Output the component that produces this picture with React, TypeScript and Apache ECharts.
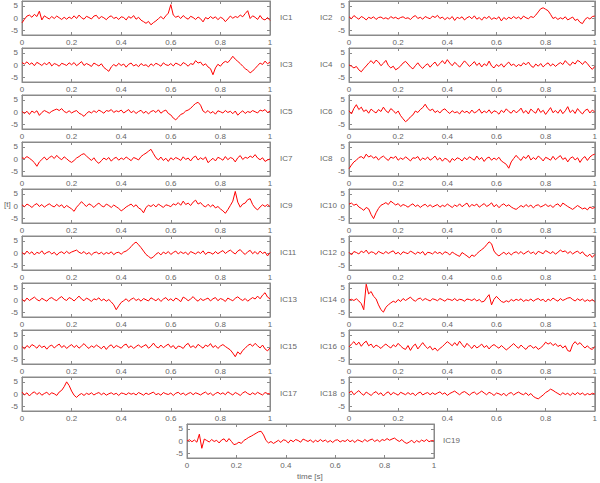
import React, { useEffect, useRef } from "react";
import * as echarts from "echarts";

const IC1 = [-2,-0.5,0.8,1.2,0.3,1.5,0.6,2.8,-0.8,0.9,0.2,-0.4,0.6,-0.2,0.8,0.1,-0.6,0.3,-0.5,0.4,-0.3,0.9,-0.2,1.2,0.1,-0.5,0.7,0.2,-0.4,0.8,1.1,-0.3,0.6,0.1,-0.7,0.4,0.9,-0.2,0.3,-0.6,0.5,0.2,-0.8,0.6,-0.1,1,-0.5,0.3,-0.9,-1.5,-2.2,-1.4,-2.8,-1.9,-1.2,-0.3,0.6,-0.4,0.9,2,5.5,1.2,0.3,0.8,-0.2,1,0.1,-0.5,0.7,0.2,-0.6,0.4,-0.3,-1.6,0.2,-0.4,0.6,-0.2,0.5,-0.7,0.3,-0.2,-1.5,-0.4,0.8,-0.1,0.6,0.2,1.2,0.5,1.8,3,-0.2,0.9,0.3,-0.6,1,-0.4,-0.8,0.2,-1];
const IC2 = [0.5,-0.3,1,0.2,-0.5,0.6,0.1,-0.8,0.3,-0.2,0.5,-0.6,0.2,0.4,-0.3,0.1,-0.5,0.6,-0.1,0.3,-0.4,0.2,0.5,-0.2,0.1,-0.6,0.4,1,-0.2,0.3,-0.5,0.6,0.1,-0.3,0.8,0.2,1.1,-0.2,0.4,-0.7,0.2,-0.4,0.6,-1,0.3,-0.2,0.5,-0.8,0.1,0.6,-0.3,0.9,-0.5,0.2,-0.9,0.4,-0.2,0.7,-0.6,0.1,-0.4,0.5,-1.2,0.2,-0.6,0.3,-0.3,0.6,-0.2,0.4,-0.5,0.8,0.1,-0.3,0.6,0.2,1.2,2.5,3.8,4.2,3.6,3,1.5,-0.2,0.3,-0.6,0.1,-0.4,0.5,-0.8,-0.2,0.4,-1,-0.5,-1.8,-2.3,-0.6,0.2,-0.4,0.6,0.8];
const IC3 = [1,0.4,1.3,0.2,0.9,-0.3,1.1,0.5,-0.2,0.8,0.1,1.2,-0.4,0.6,0.2,-0.5,0.7,0.3,-0.2,0.9,0.1,1,-0.3,0.5,1.4,-0.2,0.6,0.1,-0.6,0.8,0.2,-0.4,0.5,-1,-1.8,-2.6,-0.8,0.2,-0.5,0.7,-0.2,0.4,-0.9,0.3,0.8,-0.4,0.2,-0.7,0.6,-0.2,0.1,-0.8,0.5,-0.3,0.7,0.2,-0.5,0.9,0.1,-0.2,0.6,-0.4,0.8,0.3,-0.3,1,0.4,-0.5,0.6,0.2,1.8,0.8,1.2,-0.2,0.5,-0.8,-1.5,-4,-1.2,0.3,-0.5,0.8,1.5,1,2.2,3.6,2.4,1.5,0.6,-0.5,-1.5,-2.2,-3.2,-2.5,-1.4,-0.3,0.8,0.2,1.6,0.5,1.2];
const IC4 = [0,-0.5,-1.2,-0.6,-2,-2.8,-1.5,-0.4,0.8,1.8,0.6,2,1.2,-0.3,0.7,1.9,-0.2,-1.2,-0.5,-2,-1.3,-0.4,0.8,1.5,0.4,-0.8,-1.6,-0.3,0.9,-0.5,-1.4,-0.2,0.5,-0.9,0.3,1.2,-0.4,0.6,1.8,0.5,2.2,0.8,-0.3,1.1,0.2,-0.9,0.4,1.7,0.6,-0.6,0.3,1.4,-0.2,0.8,-0.8,0.5,-0.3,1.6,-0.4,-1.2,0.2,-0.6,0.5,-0.9,0.3,1.2,-0.2,0.4,-0.7,0.2,-0.4,0.9,0.1,1.2,-0.3,-1,0.4,-0.5,0.6,-0.8,0.2,0.9,-0.4,0.5,-0.6,0.3,1,0.2,1.8,0.6,-0.2,1.2,0.4,1.9,1.3,0.2,1.5,0.6,-0.8,-1.8,-0.6];
const IC5 = [0.2,-0.6,0.3,-1,0.4,-0.3,0.5,-1.4,-0.2,0.6,0.1,-0.5,0.3,0.8,1.2,0.6,1.4,0.2,-0.3,0.5,-0.4,0.2,0.6,-0.5,-1,-1.8,-0.6,0.2,-0.4,0.5,-0.2,0.8,0.2,-0.5,0.6,0.3,1,-0.2,0.5,0.1,0.8,-0.4,0.3,1,-0.3,0.4,-0.6,0.2,0.7,-0.5,0.3,-0.8,0.2,0.6,-0.2,0.9,-0.5,0.3,0.8,-0.6,-1.2,-2.5,-3.2,-2.2,-1,-0.6,0.4,0.8,1.5,2.6,3.5,4,2.8,0.4,-0.3,0.6,-0.5,0.2,-0.9,0.5,0.1,-0.4,0.6,-0.2,0.3,-0.7,0.4,-1.3,-0.3,0.5,-0.6,0.2,-0.2,0.6,0.1,-0.4,0.8,0.4,1,-0.2,0.3];
const IC6 = [0.5,-0.8,1.5,3,1,2,0.2,0.9,-0.5,1.2,0.3,-0.4,1,0.2,2,0.5,-0.3,1.4,0.6,-0.6,0.4,-1.5,-2.8,-4,-3.2,-2,-1.2,0.4,-0.2,1,1.8,3.2,1.5,0.6,1.2,-0.2,0.5,-0.4,0.8,1.3,0.2,-0.6,0.5,-0.3,0.1,-0.8,0.6,-0.2,0.3,-0.6,0.8,-0.4,0.2,1.2,-0.5,0.4,-0.3,0.9,-0.6,0.5,0.1,-0.9,0.7,-0.2,1.3,0.2,-0.5,0.8,-0.3,0.4,1.6,-0.4,0.6,-0.8,1.2,0.2,-0.5,1.5,-0.2,0.7,-1,0.4,1.8,-0.3,0.6,-0.5,1,-0.7,0.5,2.2,-0.2,0.8,-0.6,1.4,0.1,-0.8,0.6,1.2,-0.4,0.8,0];
const IC7 = [0.5,0.2,1,0.3,-0.5,-1.5,-3,-1.2,-0.2,0.8,-0.4,0.6,1.2,0.2,1.5,0.4,-0.3,0.9,0.1,-0.8,-1.4,-0.6,0.4,1,1.8,2.2,1.2,0.3,-0.6,0.5,-1,-1.8,-0.7,0.4,-0.3,0.6,-0.9,0.2,0.7,-0.5,0.4,-0.2,0.8,0.1,-0.7,0.6,0.2,-0.4,1,1.8,2.4,3.2,4,2.2,0.5,-0.4,0.8,-0.6,0.3,-1,0.5,-0.3,0.6,0.1,-0.6,0.9,-0.2,0.4,-0.8,0.6,1.2,-0.4,0.5,-0.2,0.8,-1.5,-0.6,0.3,-0.8,0.7,0.2,-0.5,1,-0.3,0.6,0.2,-1.2,0.5,1.4,-0.2,0.7,0.3,1.2,0.6,1.8,0.4,-0.3,0.5,-1,-0.4,0];
const IC8 = [-4,-2.5,-1.2,-0.5,0.6,1,0.2,2,0.8,1.4,0.3,1,-0.4,0.6,1.2,0.2,-0.6,0.8,0.3,1.1,-0.5,0.4,-0.2,0.9,0.1,-0.8,0.5,0.3,1,-0.6,0.4,-0.2,0.8,-0.5,0.2,1.2,-0.4,0.5,-0.9,0.3,-0.2,-1.4,0.2,-0.6,0.5,0.1,-0.8,0.6,-0.3,0.9,0.2,-0.5,1.2,-0.2,0.6,-1,0.3,0.8,-0.5,0.4,-0.3,0.7,-0.8,-1.5,-2.2,-3.8,-1.2,0.2,1.5,0.3,-0.6,1,0.2,1.6,-0.4,0.6,-0.2,1.2,0.4,-0.8,0.7,0.2,-0.5,1.1,-0.3,0.6,1.4,-0.2,0.5,-1.2,0.3,0.9,-0.4,0.5,-1.4,0.2,1,-0.6,0.8,1.6,2];
const IC9 = [0.5,-0.3,0.8,0.2,-0.6,0.4,1,-0.2,0.6,-0.5,0.3,0.9,0.1,-0.4,0.7,-0.2,0.5,-0.8,0.2,-0.5,-1.2,-2.2,-0.5,0.6,1.8,0.7,-0.2,0.9,0.3,-0.6,0.5,1.2,0.1,-0.4,0.8,0.2,-0.6,0.4,-0.3,-1,-2,-1.3,-0.4,0.2,0.8,-0.3,0.5,-0.8,-1.4,-2.8,-0.6,0.3,-0.2,0.6,-0.4,0.8,0.1,-0.6,0.5,0.2,-0.3,0.9,0.4,1.4,0.3,2,0.6,1.2,0.2,1.6,2.4,0.8,1.4,0.2,-0.4,0.7,-0.3,0.5,-0.8,-0.2,-1.2,-2,-3,-1.5,0.2,2,6,1.6,-0.5,0.8,1.2,2.6,3,0.6,-0.8,-1.6,-0.4,0.5,-0.2,0.6,-0.2];
const IC10 = [0.8,1.2,0.3,0.8,-0.4,-1,-1.8,-0.6,-1.2,-3.5,-5.2,-2.8,-1,0.3,0.8,1.4,0.6,2,1.2,0.4,1,-0.2,0.6,0.2,-0.5,0.3,0.9,-0.2,0.4,-0.6,0.2,0.7,-0.3,0.5,-0.4,0.1,0.6,-0.5,0.3,-0.2,0.8,0.1,-0.6,0.4,-0.2,0.9,-0.3,0.5,1.2,-0.4,0.6,0.1,0.8,-0.5,0.3,1,-0.2,0.4,1.3,-0.3,0.6,-0.7,0.3,0.9,-0.1,0.5,-0.4,-1,-1.4,-0.6,0.2,-0.5,0.6,-0.3,0.4,-0.8,0.2,0.5,-0.4,0.1,0.7,-0.2,0.3,-0.6,0.4,0.9,-0.3,1.2,0.5,-0.2,-0.8,-1.4,-0.6,0.2,-0.5,-1.2,-0.8,-1.6,-0.4,-1,-0.6];
const IC11 = [0.2,-0.6,0.8,-0.3,0.5,-0.8,0.3,-0.2,0.9,-0.5,0.2,0.6,-0.4,0.3,-0.9,0.1,0.5,-0.3,0.7,-0.2,0.4,0.8,1.2,0.3,-0.2,0.6,-0.5,0.2,-0.8,0.1,0.4,-0.4,0.3,-0.6,0.2,-0.3,0.5,-0.7,0.1,0.3,-0.5,0.4,0.8,1.6,2.6,3.8,4.5,3.4,2.2,0.8,-0.6,-1.4,-2.2,-1.6,-0.5,0.2,-0.8,0.4,-0.3,0.6,-0.6,0.2,0.8,-0.4,0.5,-0.2,0.3,-0.7,0.6,0.1,-0.4,0.5,-0.2,0.9,-0.6,0.3,0.1,-0.5,0.6,-0.3,0.4,1,-0.2,0.6,1.2,0.3,-0.4,0.8,1.4,0.2,-0.6,0.5,1.1,-0.3,0.6,-0.5,0.8,-0.2,0.4,-1.2,0.2];
const IC12 = [0.3,-0.8,0.6,0.2,-0.4,0.8,0.1,1.2,-0.3,0.5,0.2,-0.6,0.7,0.1,-0.3,0.6,-0.2,0.4,0.9,-0.4,0.3,-0.7,0.5,0.1,-0.3,0.8,0.2,-0.5,0.4,-0.2,0.6,-0.9,0.3,0.1,-0.4,0.6,-0.2,0.3,-0.6,0.5,0.1,-0.8,0.4,-0.3,-0.9,-1.4,0.2,-0.5,-1.2,-2,-0.8,-1.4,-0.3,0.6,1.4,2.2,3.4,4.6,3.8,0.8,-0.5,-1.2,-0.4,0.3,-0.6,0.2,-0.8,0.1,0.5,-0.3,0.6,-0.5,0.2,0.8,-0.2,0.4,-0.6,0.7,0.2,-0.3,1,0.4,-0.2,0.6,-0.5,0.3,1.2,0.5,0.9,-0.2,0.6,-0.4,0.3,0.8,-0.3,0.5,-0.8,-1.4,-0.5,-1.8,-0.6];
const IC13 = [0.3,-0.6,0.8,-0.2,0.5,1.2,0.2,-0.4,0.7,0.1,-0.5,0.6,1,0.2,-0.3,0.8,1.4,0.3,-0.2,1,0.5,-0.4,0.6,1.6,0.4,-0.3,0.8,0.2,-0.6,0.5,0.1,0.9,-0.3,0.4,-0.5,0.2,-0.8,-2,-4,-2.4,-1,-0.3,0.5,-0.6,0.3,0.8,-0.2,0.4,-0.5,0.6,0.1,-0.4,0.9,0.3,-0.3,0.6,-0.6,0.4,1,-0.2,0.5,-0.4,0.8,0.2,-0.7,1.2,0.6,-0.3,0.4,1.4,0.2,-0.5,0.6,-0.2,0.3,0.8,-0.4,0.5,1,-0.3,0.6,0.2,-0.6,0.8,0.2,-0.3,0.7,1.3,0.4,-0.2,0.6,-0.5,0.3,1,0.4,1.6,0.5,2,3,1.2,0.5];
const IC14 = [0,0.3,-0.2,0.5,-0.4,-1.5,-4,6.5,2.5,3.5,1.5,0.5,-2,-4,-5,-3,-2,-1.2,-0.5,-1,0.2,-0.6,0.6,-0.2,0.5,1.2,0.1,-0.5,0.4,0.8,-0.2,0.6,0.1,-0.4,0.5,0.2,-0.3,0.6,0.1,-0.5,0.4,0.2,-0.2,0.6,-0.3,0.3,0.1,-0.5,0.4,0.2,-0.2,0.5,-0.4,0.2,-0.8,-0.5,1,2.2,-2,0.3,1.5,0.4,-0.6,-1,-0.3,-0.8,0.2,-0.4,0.3,-0.2,0.5,-0.6,0.1,-0.3,0.4,-0.5,0.2,0.6,-0.2,0.3,-0.8,0.4,-0.3,0.8,0.1,-0.5,0.6,-0.2,0.3,0.8,1,0.2,-0.4,0.5,-0.2,0.4,-0.6,0.1,-0.5,0.2,-0.8];
const IC15 = [0.2,-0.8,0.6,-0.3,1,0.4,-0.5,0.8,-0.2,0.4,-0.9,0.3,0.8,-0.4,0.5,1.2,-0.2,0.6,-0.6,0.3,1,-0.2,0.7,-0.5,0.4,1.4,0.2,-0.6,0.5,-0.2,0.8,0.1,-0.7,0.4,-1,0.3,0.9,-0.4,0.6,0.1,-0.5,0.7,1.2,-0.3,0.5,-0.6,0.2,0.9,-0.2,0.4,1,-0.5,0.3,1.6,0.2,-0.4,0.8,-0.3,0.5,1.2,-0.2,0.6,-0.8,0.4,0.1,-0.6,0.8,1.5,-0.2,0.5,-0.4,1.1,0.3,-0.5,0.8,0.2,1.4,-0.2,0.6,-0.6,0.4,1,0.2,-0.5,-1.2,-2.5,-4,-2,-3,-1.4,-0.5,0.6,1.2,0.3,1.5,0.5,-0.4,0.8,-0.8,-1.6,-0.4];
const IC16 = [0,1.2,2.2,0.8,2,0.3,1.6,2.4,0.5,1.2,-0.3,0.8,0.2,-0.6,0.5,1.2,0.3,-0.4,0.9,0.1,1.5,0.4,-0.5,-1,0.6,-1.4,0.3,1.2,-0.8,0.5,1.8,0.4,-0.6,0.3,-1.2,-0.4,-1.6,-0.6,0.2,1.2,2.2,1.4,0.5,1.8,0.6,2.4,1,-0.2,1.5,0.4,-0.6,0.8,-0.4,0.3,1.2,-0.2,0.6,-0.8,0.4,1,0.2,-0.5,0.6,-0.3,-1.2,-0.4,0.5,1.4,0.3,-0.5,0.8,-0.2,-1,0.3,0.6,-0.5,0.2,-1,-0.3,0.6,2,1.2,1.8,0.6,1.4,0.2,0.8,-0.4,0.5,-1.5,-1.8,1,2.2,1,1.8,0.6,-0.4,0.5,-0.6,-1,0.2];
const IC17 = [0.8,-0.4,0.5,-0.8,0.3,0.9,-0.2,0.6,-0.5,0.2,0.7,-0.3,0.5,0.1,-0.6,0.8,1.5,3,5,3.5,1.2,-0.5,-1.4,-0.4,0.2,-0.6,0.3,-0.2,0.5,-0.4,0.2,0.6,-0.3,0.4,-0.5,0.1,0.5,-0.2,0.3,-0.6,0.4,0.2,-0.3,0.5,-0.1,0.3,-0.4,0.6,0.1,-0.5,0.4,-0.2,0.3,0.8,-0.3,0.2,-0.5,0.6,0.1,-0.2,0.4,-0.6,0.3,0.7,-0.2,0.4,-0.5,0.2,0.6,-0.3,0.5,0.1,-0.4,0.3,0.8,-0.2,0.4,-0.6,0.2,0.7,-0.1,0.5,-0.3,0.9,0.2,-0.4,0.6,0.1,-0.6,0.4,1,0.2,-0.3,0.5,-0.2,0.7,0.1,-0.4,0.6,0.2,0];
const IC18 = [0.5,1.2,-0.3,0.6,1.4,0.2,-0.5,0.8,0.1,-0.6,0.4,1,-0.2,0.5,-0.8,0.3,0.9,-0.4,0.6,0.1,-0.5,0.7,0.2,-0.3,0.6,-0.2,0.4,-0.7,0.3,0.8,-0.4,0.2,0.6,-0.3,0.5,-0.2,0.4,0.9,-0.1,0.5,-0.6,0.2,0.7,1.2,0.4,-0.3,0.6,1,0.3,-0.5,0.4,0.8,-0.2,0.5,1.2,0.4,-0.3,0.7,0.2,-0.6,0.4,0.1,-0.5,0.3,-0.8,0.2,0.6,-0.4,0.3,0.8,0.1,-0.3,0.5,-0.6,0.2,-1,-1.6,-2,-1.2,-0.4,0.6,1.2,2,1.5,0.8,0.2,-0.4,0.5,-0.2,0.3,-0.6,0.4,-0.3,0.6,-0.2,0.4,-0.5,0.2,-0.3,0.3,0];
const IC19 = [0,0.5,-0.3,0.4,-0.5,2.8,-3,0.8,0.2,-0.4,0.6,-0.2,0.3,-0.8,0.4,0.9,-0.4,1,-0.2,-1.5,-1.2,-0.5,-1,0.2,0.8,1.5,2,2.6,3.2,3.8,4,2.5,0.2,-0.8,-0.2,-1,-0.4,0.3,-0.6,0.5,0.2,-0.8,0.4,-0.3,0.6,0.2,-0.5,0.8,0.3,-0.2,0.5,-0.6,0.3,-0.3,0.6,-0.2,0.4,-0.5,0.2,-0.6,0.3,0.5,-0.4,0.2,-0.2,0.6,-0.3,0.3,-0.6,0.5,0.1,-0.4,0.6,-0.2,0.4,0.8,-0.2,0.5,-0.3,0.6,0.2,1,0.3,0.8,1.2,0.4,-0.2,0.6,-0.5,-1,-0.4,0.3,-0.8,0.2,-0.5,0.4,-0.2,0.6,-0.3,0.2,0];

const SERIES = [IC1, IC2, IC3, IC4, IC5, IC6, IC7, IC8, IC9, IC10, IC11, IC12, IC13, IC14, IC15, IC16, IC17, IC18, IC19];
const NAMES = ["IC1","IC2","IC3","IC4","IC5","IC6","IC7","IC8","IC9","IC10","IC11","IC12","IC13","IC14","IC15","IC16","IC17","IC18","IC19"];
const X_TICKS = [0, 0.2, 0.4, 0.6, 0.8, 1];
const Y_TICKS = [-5, 0, 5];
const Y_LABEL = "[t]";
const X_LABEL = "time [s]";

const FONT = "Liberation Sans, Arial, sans-serif";
const AXIS_COLOR = "#8a8a8a";
const TEXT_COLOR = "#666666";

export default function App() {
  const ref = useRef<HTMLDivElement>(null);
  useEffect(() => {
    document.body.style.margin = "0";
    const chart = echarts.init(ref.current!, null, { renderer: "svg" });
    const grids: any[] = [];
    const xAxes: any[] = [];
    const yAxes: any[] = [];
    const series: any[] = [];
    const graphics: any[] = [];
    SERIES.forEach((data, i) => {
      let row: number, left: number, width: number, labelX: number;
      if (i < 18) {
        row = Math.floor(i / 2);
        const col = i % 2;
        left = col === 0 ? 22 : 349;
        width = 248;
        labelX = col === 0 ? 280 : 320;
      } else {
        row = 9;
        left = 187;
        width = 247;
        labelX = 443;
      }
      const top = 1 + 47 * row;
      const height = 34;
      grids.push({ left, top, width, height, show: true, borderColor: AXIS_COLOR, borderWidth: 1, backgroundColor: "#fff" });
      const gi = i;
      const tickStyle = { show: true, inside: true, length: 3, lineStyle: { color: AXIS_COLOR } };
      const lineStyle = { show: true, onZero: false, lineStyle: { color: AXIS_COLOR } };
      xAxes.push({
        type: "value", gridIndex: gi, min: 0, max: 1, interval: 0.2, position: "bottom",
        axisLine: lineStyle,
        axisTick: tickStyle,
        splitLine: { show: false },
        axisLabel: {
          color: TEXT_COLOR, fontSize: 8, fontFamily: FONT, margin: 3,
          formatter: (v: number) => {
            const r = Math.round(v * 10) / 10;
            return X_TICKS.some((t) => Math.abs(t - r) < 1e-9) ? String(r) : "";
          },
        },
      });
      xAxes.push({
        type: "value", gridIndex: gi, min: 0, max: 1, interval: 0.2, position: "top",
        axisLine: lineStyle,
        axisTick: tickStyle, axisLabel: { show: false }, splitLine: { show: false },
      });
      yAxes.push({
        type: "value", gridIndex: gi, min: -7, max: 7, position: "left",
        axisLine: lineStyle,
        axisTick: { ...tickStyle, customValues: Y_TICKS },
        splitLine: { show: false },
        axisLabel: { color: TEXT_COLOR, fontSize: 8, fontFamily: FONT, margin: 4, customValues: Y_TICKS, formatter: (v: number) => String(v) },
      });
      yAxes.push({
        type: "value", gridIndex: gi, min: -7, max: 7, position: "right",
        axisLine: lineStyle,
        axisTick: { ...tickStyle, customValues: Y_TICKS },
        splitLine: { show: false }, axisLabel: { show: false },
      });
      series.push({
        type: "line", xAxisIndex: 2 * i, yAxisIndex: 2 * i, showSymbol: false, silent: true,
        lineStyle: { color: "#ff0000", width: 1 },
        data: data.map((v, k) => [k / (data.length - 1), v]),
      });
      graphics.push({
        type: "text", left: labelX, top: top + 17 - 5,
        style: { text: NAMES[i], fill: TEXT_COLOR, fontSize: 8, fontFamily: FONT },
      });
    });
    graphics.push({ type: "text", left: 4, top: 200, style: { text: Y_LABEL, fill: TEXT_COLOR, fontSize: 8, fontFamily: FONT } });
    graphics.push({ type: "text", left: 297, top: 472, style: { text: X_LABEL, fill: TEXT_COLOR, fontSize: 8, fontFamily: FONT } });
    chart.setOption({
      animation: false,
      backgroundColor: "#ffffff",
      grid: grids,
      xAxis: xAxes,
      yAxis: yAxes,
      series,
      graphic: graphics,
    });
    return () => chart.dispose();
  }, []);
  return <div ref={ref} style={{ width: 600, height: 483 }} />;
}
